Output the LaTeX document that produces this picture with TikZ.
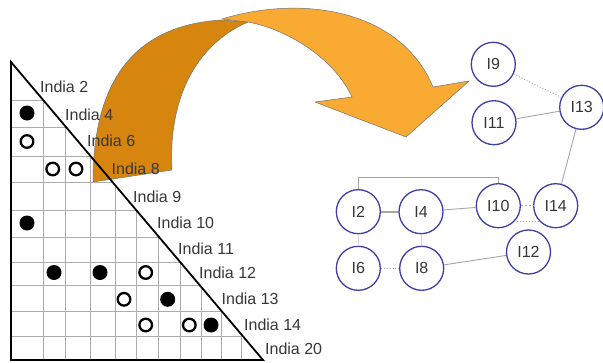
\documentclass[tikz,border=0pt]{standalone}
\usepackage{fontspec}
\setmainfont{Liberation Sans}
\usepackage{tikz}
\tikzset{>=latex}
\definecolor{arrowdark}{RGB}{214,133,14}
\definecolor{arrowlight}{RGB}{248,170,50}
\definecolor{nodeblue}{RGB}{62,62,168}
\definecolor{edgegray}{RGB}{165,165,165}
\definecolor{textgray}{RGB}{55,55,55}
\tikzset{
    gridline/.style={draw=gray!65, line width=.9pt},
    opendot/.style={draw=black, fill=white, line width=2.3pt},
    rowlabel/.style={anchor=west, inner sep=0pt, text=textgray},
    gnode/.style={circle, draw=nodeblue, fill=white, line width=1.3pt, minimum size=44pt, inner sep=0pt, text=textgray},
    glink/.style={draw=edgegray, line width=.9pt}
}

\begin{document}
\begin{tikzpicture}[x=1pt, y=-1pt, font=\fontsize{16}{19}\selectfont]
    \useasboundingbox(0, 0)rectangle(603, 362);
    \clip(0, 0)rectangle(603, 362);
    \filldraw[fill=arrowdark, draw=black!55, line width=.5pt](93, 182).. controls(93, 80)and(135, 25)..(222, 20)--(248, 22).. controls(195, 45)and(168, 100)..(172, 170)--cycle;
    \filldraw[fill=arrowlight, draw=black!55, line width=.5pt](222, 19).. controls(300, -5)and(400, 8)..(433, 87)--(469, 81)--(406, 137)--(315, 102)--(352, 97).. controls(335, 60)and(290, 30)..(248, 22)--cycle;
    \begin{scope}
        \clip(11, 62)--(263, 360)--(11, 360)--cycle;
        \foreach \y in {100, 127.7, 156, 182.3, 210, 237.7, 262, 285, 311.7, 336.7}
            \draw[gridline](11, \y)--(263, \y);
        \foreach \x in {43, 65, 90, 115, 136, 158, 180, 201, 221.7, 241.7}
            \draw[gridline](\x, 62)--(\x, 360);
    \end{scope}
    \draw[line width=1.8pt, line join=miter](11, 62)--(263, 360)--(11, 360)--cycle;
    \fill(27, 113)circle(7.5pt);
    \fill(27, 223)circle(7.5pt);
    \fill(54, 272.5)circle(7.5pt);
    \fill(100, 272.5)circle(7.5pt);
    \fill(167.7, 299.3)circle(7.5pt);
    \fill(211, 325)circle(7.5pt);
    \draw[opendot](27, 141.5)circle(6.3pt);
    \draw[opendot](52.7, 169)circle(6.3pt);
    \draw[opendot](76, 169)circle(6.3pt);
    \draw[opendot](145.7, 272.5)circle(6.3pt);
    \draw[opendot](124, 299.3)circle(6.3pt);
    \draw[opendot](145.7, 325)circle(6.3pt);
    \draw[opendot](189.3, 325)circle(6.3pt);
    \node[rowlabel](in2)at(40, 87){India 2};
    \node[rowlabel](in4)at(65, 115){India 4};
    \node[rowlabel](in6)at(87, 141){India 6};
    \node[rowlabel](in8)at(111.5, 168.5){India 8};
    \node[rowlabel](in9)at(133, 196.5){India 9};
    \node[rowlabel](in10)at(157, 222.5){India 10};
    \node[rowlabel](in11)at(178, 249){India 11};
    \node[rowlabel](in12)at(199, 272.5){India 12};
    \node[rowlabel](in13)at(221.5, 299){India 13};
    \node[rowlabel](in14)at(244, 325){India 14};
    \node[rowlabel](in20)at(265, 349){India 20};
    \node[gnode](i9)at(493.3, 64.3){I9};
    \node[gnode](i13)at(581.7, 107.3){I13};
    \node[gnode](i11)at(494, 122.7){I11};
    \node[gnode](i2)at(358.3, 211.7){I2};
    \node[gnode](i4)at(421, 211.7){I4};
    \node[gnode](i10)at(498.3, 205.7){I10};
    \node[gnode](i14)at(555.7, 205.7){I14};
    \node[gnode](i6)at(358.3, 268.3){I6};
    \node[gnode](i8)at(421.7, 268.3){I8};
    \node[gnode](i12)at(528.5, 252){I12};
    \draw[glink, dotted](i9)--(i13);
    \draw[glink](i11)--(i13);
    \draw[glink](i13)--(i14);
    \draw[glink](i2.north)--++(0, -11.5)-|(i10.north);
    \draw[glink, line width=2.2pt](i2)--(i4);
    \draw[glink](i4)--(i10);
    \draw[glink, dash pattern=on 2pt off 2pt](i10)--(i14);
    \draw[glink, dotted](i10.south east)--(i14.south west);
    \draw[glink, draw=gray!30](i2)--(i6);
    \draw[glink, draw=gray!30](i4)--(i8);
    \draw[glink, dotted](i6)--(i8);
    \draw[glink](i8)--(i12);
\end{tikzpicture}
\end{document}
